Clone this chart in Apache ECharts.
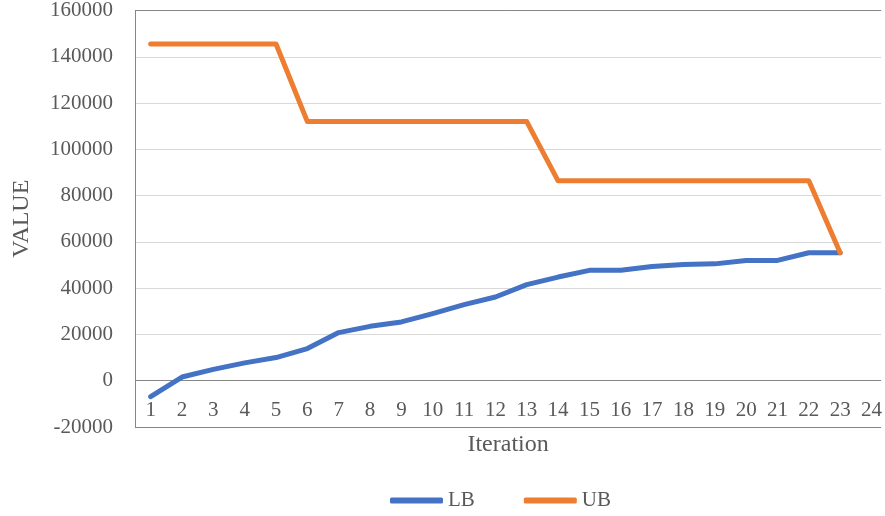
<!DOCTYPE html>
<html>
<head>
<meta charset="utf-8">
<script src="https://cdn.jsdelivr.net/npm/echarts@6/dist/echarts.min.js"></script>
<style>html,body{margin:0;padding:0;background:#fff;overflow:hidden;}#c{width:885px;height:516px;}</style>
</head>
<body>
<div id="c"></div>
<script>
var categories = ['1','2','3','4','5','6','7','8','9','10','11','12','13','14','15','16','17','18','19','20','21','22','23','24'];
var lbValues = [-6900, 1600, 4900, 7700, 10000, 13900, 20800, 23500, 25400, 29000, 32900, 36200, 41500, 44800, 47700, 47700, 49400, 50200, 50500, 52000, 52000, 55300, 55300];
var ubValues = [145500, 145500, 145500, 145500, 145500, 112000, 112000, 112000, 112000, 112000, 112000, 112000, 112000, 86400, 86400, 86400, 86400, 86400, 86400, 86400, 86400, 86400, 55300];
var yTicks = {min: -20000, max: 160000, interval: 20000};

var font = "'Times New Roman', 'Liberation Serif', serif";
var txt = '#595959';
var dark = '#868686';
var light = '#d9d9d9';

function toPoints(vals) {
  return vals.map(function (v, i) { return [Number(categories[i]), v]; });
}
var nLines = (yTicks.max - yTicks.min) / yTicks.interval + 1;
var splitColors = [];
for (var k = 0; k < nLines; k++) {
  var tv = yTicks.min + k * yTicks.interval;
  splitColors.push((tv === yTicks.min || tv === 0 || tv === yTicks.max) ? dark : light);
}

var chart = echarts.init(document.getElementById('c'));
chart.setOption({
  animation: false,
  grid: {left: 135, top: 9, right: 0, bottom: 89, show: false, containLabel: false},
  xAxis: {
    type: 'value',
    min: 0.5,
    max: 0.5 + 750 / 31.5,
    interval: 0.5,
    name: 'Iteration',
    nameLocation: 'middle',
    nameGap: 6,
    nameTextStyle: {fontFamily: font, fontSize: 24, color: txt},
    axisLine: {show: false, onZero: false},
    axisTick: {show: false},
    axisLabel: {
      margin: -27, fontFamily: font, fontSize: 21, color: txt, hideOverlap: false,
      showMinLabel: true, showMaxLabel: true,
      formatter: function (v) {
        var r = Math.round(v);
        if (Math.abs(v - r) < 1e-6 && categories.indexOf(String(r)) >= 0) return String(r);
        return '';
      }
    },
    splitLine: {show: false}
  },
  yAxis: {
    type: 'value',
    min: yTicks.min,
    max: yTicks.max,
    interval: yTicks.interval,
    name: 'VALUE',
    nameLocation: 'middle',
    nameGap: 101,
    nameTextStyle: {fontFamily: font, fontSize: 24, color: txt},
    axisLine: {show: true, onZero: false, lineStyle: {color: dark}},
    axisTick: {show: false},
    axisLabel: {margin: 22, fontFamily: font, fontSize: 21, color: txt, formatter: function (v) { return String(v); }},
    splitLine: {show: true, showMinLine: true, showMaxLine: true, lineStyle: {color: splitColors, width: 1}}
  },
  legend: {
    left: 385,
    top: 485,
    itemGap: 49,
    itemWidth: 53,
    itemHeight: 6,
    itemTextGap: 3,
    icon: 'roundRect',
    textStyle: {fontFamily: font, fontSize: 21, color: txt},
    data: ['LB', 'UB']
  },
  series: [
    {name: 'LB', type: 'line', data: toPoints(lbValues), showSymbol: false, symbol: 'none',
     lineStyle: {color: '#4472C4', width: 5, cap: 'round', join: 'round'}, itemStyle: {color: '#4472C4'}},
    {name: 'UB', type: 'line', data: toPoints(ubValues), showSymbol: false, symbol: 'none',
     lineStyle: {color: '#ED7D31', width: 5, cap: 'round', join: 'round'}, itemStyle: {color: '#ED7D31'}}
  ]
});
</script>
</body>
</html>
